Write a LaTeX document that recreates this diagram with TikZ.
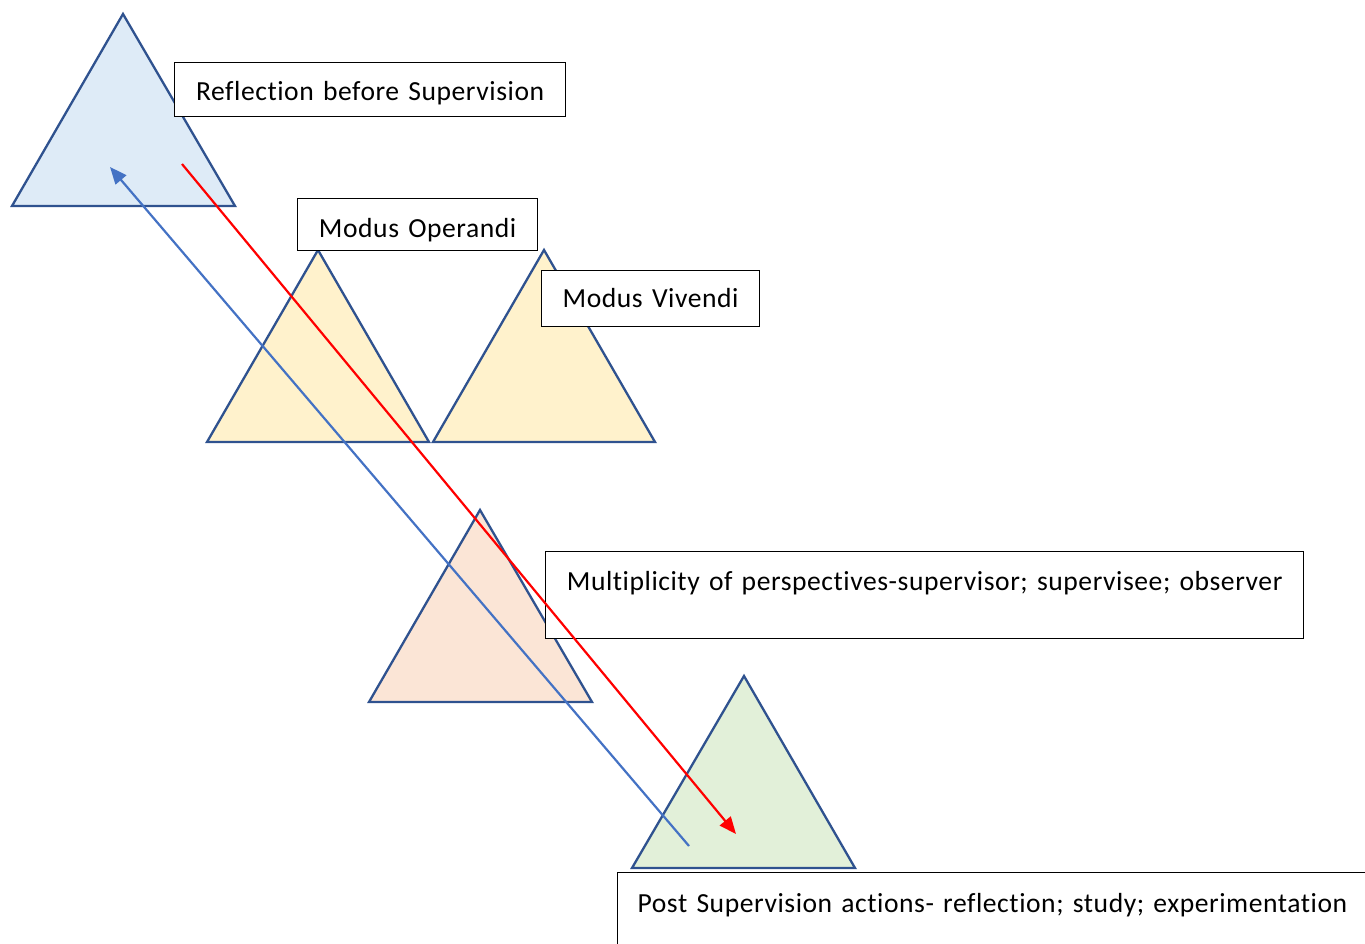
\documentclass[tikz,border=0pt]{standalone}
\usepackage{fontspec}
\setmainfont{Carlito}[Ligatures=NoCommon, LetterSpace=2, WordSpace=0.7]
\usetikzlibrary{arrows.meta}
\definecolor{tristroke}{HTML}{2F528F}
\definecolor{fillblue}{HTML}{DEEBF7}
\definecolor{fillyellow}{HTML}{FFF2CC}
\definecolor{fillpeach}{HTML}{FBE5D6}
\definecolor{fillgreen}{HTML}{E2F0D9}
\definecolor{arrowblue}{HTML}{4472C4}
\definecolor{arrowred}{HTML}{FF0000}
\tikzset{
  tri/.style={draw=tristroke, line width=2.3pt, line join=miter},
  labelbox/.style={draw=black, fill=white, line width=1.3pt, anchor=north west,
    inner xsep=0pt, inner ysep=0pt, font=\fontsize{27.6}{33}\selectfont},
  conn/.style={line width=2.2pt, -{Triangle[length=17pt,width=14pt]}},
}
\begin{document}
\begin{tikzpicture}[x=1pt,y=-1pt]
\useasboundingbox (0,0) rectangle (1365,944);
% triangles
\draw[tri, fill=fillblue]   (123,14)  -- (235,206) -- (12,206)  -- cycle;
\draw[tri, fill=fillyellow] (318,250) -- (429,442) -- (207,442) -- cycle;
\draw[tri, fill=fillyellow] (544,250) -- (655,442) -- (433,442) -- cycle;
\draw[tri, fill=fillpeach]  (480,510) -- (592,702) -- (369,702) -- cycle;
\draw[tri, fill=fillgreen]  (744,676) -- (855,868) -- (632,868) -- cycle;
% boxes
\node[labelbox, text width=391pt, align=center, text height=38pt, text depth=16pt]
  (reflect) at (174,62) {Reflection before Supervision};
\node[labelbox, text width=240pt, align=center, text height=39pt, text depth=13pt]
  (operandi) at (297,198) {Modus Operandi};
\node[labelbox, text width=218pt, align=center, text height=37pt, text depth=19pt]
  (vivendi) at (541,270) {Modus Vivendi};
\node[labelbox, text width=758pt, align=center, text height=39pt, text depth=48pt]
  (multi) at (545,551) {Multiplicity of perspectives-supervisor; supervisee; observer};
\begin{scope}
\clip (0,0) rectangle (1365,944);
\node[labelbox, text width=800pt, align=left, inner xsep=20pt, text height=40pt, text depth=60pt]
  (post) at (617,872) {Post Supervision actions- reflection; study; experimentation};
\end{scope}
% connector end points
\coordinate (blueStart) at (689,846);
\coordinate (blueEnd) at (110,167);
\coordinate (redStart) at (182,164);
\coordinate (redEnd) at (736,834);
\draw[conn, draw=arrowblue, fill=arrowblue] (blueStart) -- (blueEnd);
\draw[conn, draw=arrowred, fill=arrowred] (redStart) -- (redEnd);
\end{tikzpicture}
\end{document}
